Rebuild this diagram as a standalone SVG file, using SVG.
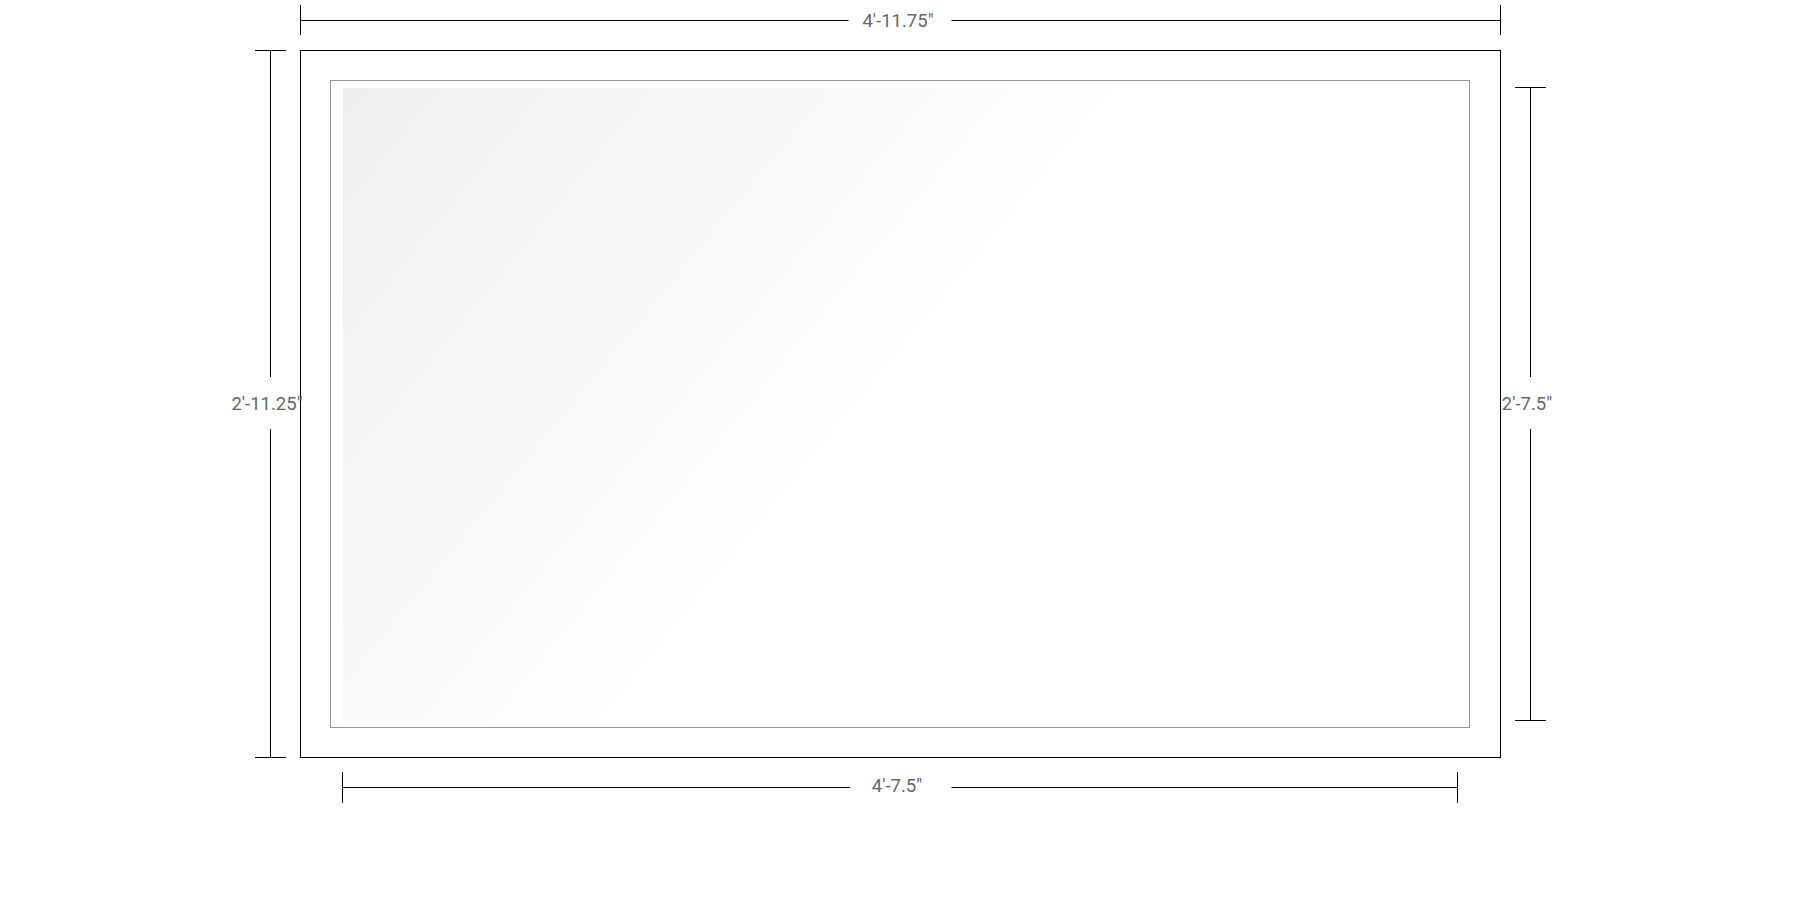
<svg xmlns="http://www.w3.org/2000/svg" width="1800" height="907" viewBox="0 0 1800 907">
<style>
.dim{stroke:#000;stroke-width:1;fill:none}
.lbl{font-family:Roboto,"Liberation Sans",sans-serif;font-size:18.5px;fill:#666;text-anchor:middle}
</style>
<defs>
<linearGradient id="glass" gradientUnits="userSpaceOnUse" x1="343" y1="88" x2="825" y2="481">
<stop offset="0" stop-color="#eeeeee"/>
<stop offset="1" stop-color="#ffffff"/>
</linearGradient>
</defs>
<rect width="1800" height="907" fill="#fff"/>
<g id="frame">
<rect x="300.5" y="50.5" width="1200" height="707" fill="#fff" stroke="#000" stroke-width="1"/>
</g>
<g id="inner">
<rect x="330.5" y="80.5" width="1139" height="647" fill="#fff" stroke="#999" stroke-width="1"/>
</g>
<g id="glass-pane">
<rect x="343" y="88" width="1115" height="633" fill="url(#glass)"/>
</g>
<g id="dimensions">
<path class="dim" d="M300.5 5V35M1500.5 5V35M300.5 20.5H848.5M951.5 20.5H1500.5"/>
<path class="dim" d="M255 50.5H286M255 757.5H286M270.5 50.5V377M270.5 429V757.5"/>
<path class="dim" d="M1515 87.5H1546M1515 720.5H1546M1530.5 87.5V377M1530.5 429V720.5"/>
<path class="dim" d="M342.5 772V803M1457.5 772V803M342.5 787.5H850M951.5 787.5H1457.5"/>
</g>
<g id="labels">
<text class="lbl" x="898" y="26.5">4'-11.75"</text>
<text class="lbl" x="267" y="410">2'-11.25"</text>
<text class="lbl" x="1527" y="410">2'-7.5"</text>
<text class="lbl" x="897" y="791.5">4'-7.5"</text>
</g>
</svg>
